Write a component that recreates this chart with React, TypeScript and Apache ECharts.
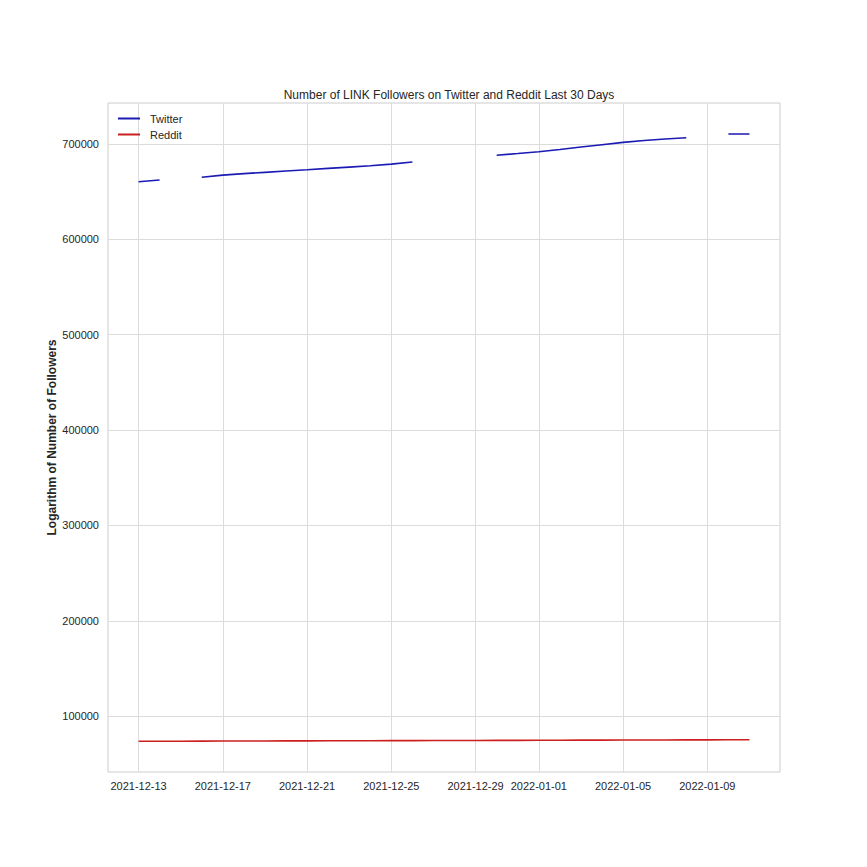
import React, { useEffect, useRef } from "react";
import * as echarts from "echarts";

const dates = [
  "2021-12-13", "2021-12-14", "2021-12-15", "2021-12-16", "2021-12-17", "2021-12-18",
  "2021-12-19", "2021-12-20", "2021-12-21", "2021-12-22", "2021-12-23", "2021-12-24",
  "2021-12-25", "2021-12-26", "2021-12-27", "2021-12-28", "2021-12-29", "2021-12-30",
  "2021-12-31", "2022-01-01", "2022-01-02", "2022-01-03", "2022-01-04", "2022-01-05",
  "2022-01-06", "2022-01-07", "2022-01-08", "2022-01-09", "2022-01-10", "2022-01-11",
];

const twitter: (number | null)[] = [
  660400, 662200, null, 665100, 667400, 668900, 670300, 671700, 673000, 674400, 675800, 677200,
  678900, 681200, null, null, null, 688200, 690000, 691900, 694200, 696800, 699300, 701700,
  703700, 705200, 706600, null, 710500, 710500,
];

const reddit: number[] = [
  73700, 73760, 73820, 73880, 73930, 73990, 74050, 74100, 74160, 74210, 74270, 74320,
  74380, 74430, 74490, 74540, 74600, 74650, 74710, 74760, 74820, 74880, 74930, 74990,
  75050, 75110, 75170, 75230, 75290, 75350,
];

const xTicks = ["2021-12-13", "2021-12-17", "2021-12-21", "2021-12-25", "2021-12-29", "2022-01-01", "2022-01-05", "2022-01-09"];
const yTicks = [100000, 200000, 300000, 400000, 500000, 600000, 700000];

const DAY = 86400000;
const ts = (s: string) => Date.parse(s + "T00:00:00Z");

const FONT = "Liberation Sans, Arial, sans-serif";

export default function App() {
  const ref = useRef<HTMLDivElement>(null);
  useEffect(() => {
    document.body.style.margin = "0";
    const chart = echarts.init(ref.current!, null, { renderer: "svg" });
    const xMin = ts(dates[0]) - 1.45 * DAY;
    const xMax = ts(dates[dates.length - 1]) + 1.45 * DAY;
    chart.setOption({
      animation: false,
      backgroundColor: "#ffffff",
      textStyle: { fontFamily: FONT },
      title: {
        text: "Number of LINK Followers on Twitter and Reddit Last 30 Days",
        left: 444,
        top: 84,
        textAlign: "center",
        textStyle: { fontSize: 12, fontWeight: "normal", color: "#262626", fontFamily: FONT },
      },
      legend: {
        orient: "vertical",
        left: 113,
        top: 108,
        itemWidth: 22,
        itemHeight: 2,
        itemGap: 5,
        icon: "rect",
        textStyle: { fontSize: 11, color: "#262626", fontFamily: FONT, padding: [0, 0, 0, 5] },
        data: ["Twitter", "Reddit"],
      },
      grid: {
        left: 108,
        right: 87,
        top: 103,
        bottom: 95,
        show: true,
        borderColor: "#cccccc",
        borderWidth: 1,
        backgroundColor: "transparent",
      },
      xAxis: {
        type: "value",
        min: xMin,
        max: xMax,
        axisLine: { show: false },
        axisTick: { show: false, customValues: xTicks.map(ts) },
        axisLabel: {
          customValues: xTicks.map(ts),
          formatter: (v: number) => new Date(v).toISOString().slice(0, 10),
          fontSize: 11,
          color: "#262626",
          margin: 8,
          fontFamily: FONT,
        },
        splitLine: { show: true, lineStyle: { color: "#dcdcdc", width: 1 } },
      },
      yAxis: {
        type: "value",
        min: 41500,
        max: 743000,
        name: "Logarithm of Number of Followers",
        nameLocation: "middle",
        nameGap: 50,
        nameMoveOverlap: false,
        nameTextStyle: { fontSize: 12, fontWeight: "bold", color: "#262626", fontFamily: FONT },
        axisLine: { show: false },
        axisTick: { show: false, customValues: yTicks },
        axisLabel: {
          customValues: yTicks,
          formatter: (v: number) => String(v),
          fontSize: 11,
          color: "#262626",
          margin: 9,
          fontFamily: FONT,
        },
        splitLine: { show: true, lineStyle: { color: "#dcdcdc", width: 1 } },
      },
      series: [
        {
          name: "Twitter",
          type: "line",
          data: dates.map((d, i) => [ts(d), twitter[i]]),
          showSymbol: false,
          connectNulls: false,
          lineStyle: { color: "#1a1ab4", width: 1.6 },
          itemStyle: { color: "#1a1ab4" },
        },
        {
          name: "Reddit",
          type: "line",
          data: dates.map((d, i) => [ts(d), reddit[i]]),
          showSymbol: false,
          lineStyle: { color: "#cc1f1f", width: 1.6 },
          itemStyle: { color: "#cc1f1f" },
        },
      ],
    });
    return () => chart.dispose();
  }, []);
  return <div ref={ref} style={{ width: 867, height: 867 }} />;
}
